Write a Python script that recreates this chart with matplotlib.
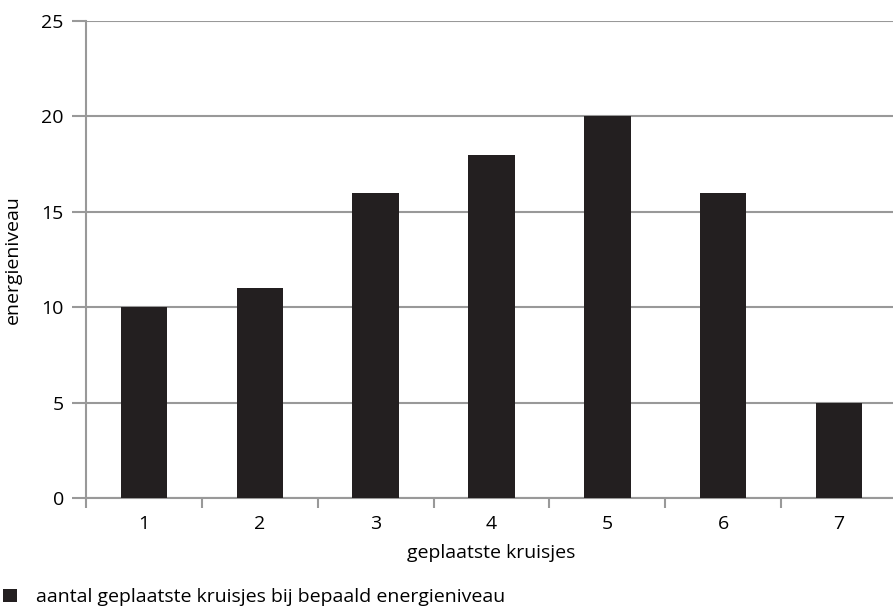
import numpy as np
import matplotlib
matplotlib.use('Agg')
import matplotlib.pyplot as plt

# chart data
categories = ['1', '2', '3', '4', '5', '6', '7']
values = [10, 11, 16, 18, 20, 16, 5]
yticks = [0, 5, 10, 15, 20, 25]

plt.rcParams['font.family'] = ['Open Sans', 'DejaVu Sans']

fig = plt.figure(figsize=(8.93, 6.08), dpi=100)
W, H = 893, 608
# axes spans past the right edge, as in the original crop
ax = fig.add_axes([86 / W, 1 - 498 / H, 811 / W, 477 / H])

x = np.arange(len(categories))
bars = ax.bar(x, values, width=0.4, color='#231f20', zorder=3,
              label='aantal geplaatste kruisjes bij bepaald energieniveau')

ax.set_xlim(-0.5, len(categories) - 0.5)
ax.set_ylim(0, 25)
ax.set_yticks(yticks)
ax.yaxis.grid(True, color='#999999', linewidth=1.5, zorder=0)

# category labels centred, tick marks on boundaries
ax.set_xticks(x)
ax.set_xticklabels(categories)
ax.set_xticks(np.arange(len(categories) + 1) - 0.5, minor=True)
ax.tick_params(axis='x', which='major', length=0, pad=12, labelsize=14)
ax.tick_params(axis='x', which='minor', length=7, width=1.5, color='#999999')
ax.tick_params(axis='y', length=10, width=1.5, color='#999999', pad=6,
               labelsize=14)

for side in ['top', 'right']:
    ax.spines[side].set_visible(False)
for side in ['left', 'bottom']:
    ax.spines[side].set_color('#999999')
    ax.spines[side].set_linewidth(1.5)

ax.set_xlabel('geplaatste kruisjes', fontsize=14, labelpad=8)
ax.set_ylabel('energieniveau', fontsize=14, labelpad=14)

fig.legend(handles=[bars], loc='lower left', bbox_to_anchor=(-0.016, -0.026),
           frameon=False, fontsize=14, handlelength=0.72, handleheight=0.72,
           handletextpad=0.95)

plt.savefig('out.png', dpi=100)
